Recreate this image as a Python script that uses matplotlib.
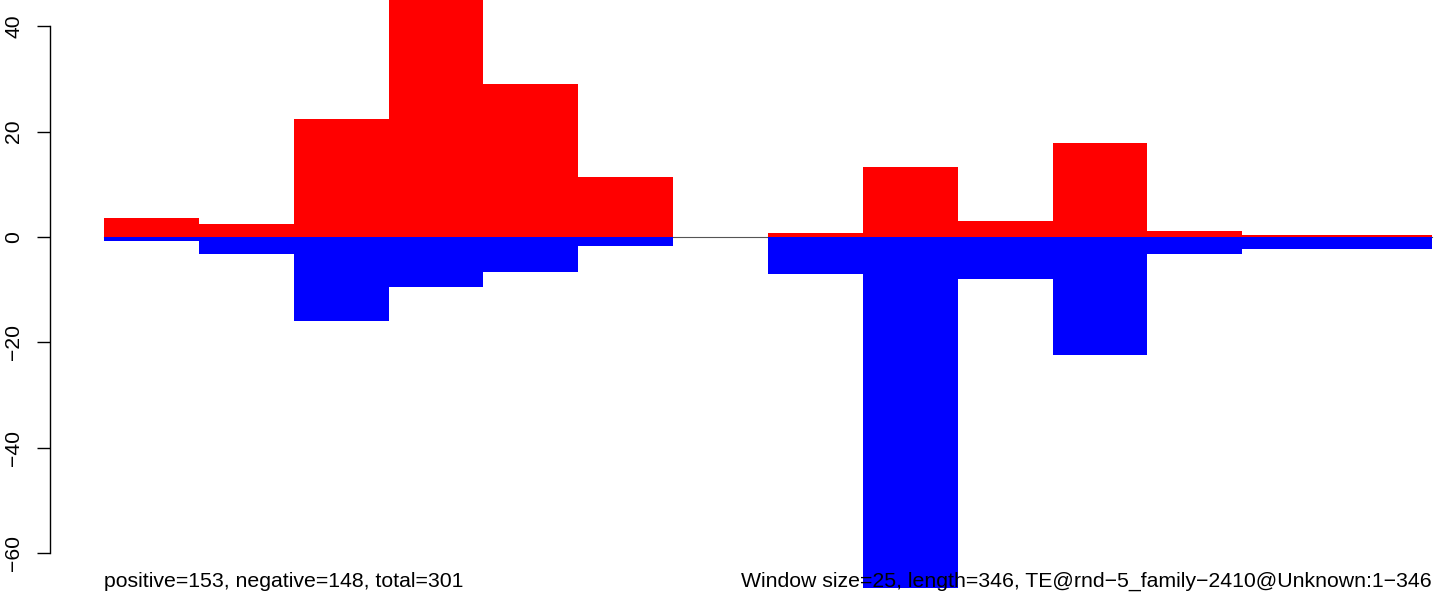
import numpy as np
import matplotlib
matplotlib.use('Agg')
import matplotlib.pyplot as plt

# counts per 25-bp window
positive = [3.7, 2.5, 22.4, 48.0, 29.1, 11.4, 0.0, 0.7, 13.3, 3.0, 17.8, 1.1, 0.3, 0.3]
negative = [-0.8, -3.2, -15.9, -9.5, -6.7, -1.7, 0.0, -7.0, -66.6, -8.0, -22.4, -3.2, -2.3, -2.3]
yticks = [-60, -40, -20, 0, 20, 40]
left_note = 'positive=153, negative=148, total=301'
right_note = 'Window size=25, length=346, TE@rnd\u22125_family\u22122410@Unknown:1\u2212346'

plt.rcParams['font.family'] = ['Liberation Sans', 'DejaVu Sans']
plt.rcParams['axes.unicode_minus'] = True

W, H = 1444, 594
fig = plt.figure(figsize=(W / 100, H / 100), dpi=100)
ax = fig.add_axes([0, 0, 1, 1])

# pixel -> data mapping of the original layout
x0px, bw = 104, 94.857
y0px, ppu = 237, 5.27
ax.set_xlim(-x0px / bw, (W - x0px) / bw)
ax.set_ylim(-(H - y0px) / ppu, y0px / ppu)

n = len(positive)
xs = np.arange(n)
ax.plot([0, n], [0, 0], color='#555555', lw=0.8, zorder=1)
ax.bar(xs, positive, width=1, align='edge', color='#ff0000', linewidth=0, zorder=2)
ax.bar(xs, negative, width=1, align='edge', color='#0000ff', linewidth=0, zorder=2)

for s in ['top', 'right', 'bottom']:
    ax.spines[s].set_visible(False)
ax.spines['left'].set_position(('data', (50 - x0px) / bw))
ax.spines['left'].set_bounds(-60, 40)
ax.spines['left'].set_linewidth(1)
ax.set_xticks([])
ax.set_yticks(yticks)
ax.set_yticklabels([str(v).replace('-', '\u2212') for v in yticks],
                   rotation=90, va='center', fontsize=15.2)
ax.tick_params(axis='y', direction='out', length=9.4, width=1, pad=10)
ax.patch.set_alpha(0)

ytxt = (y0px - 587) / ppu
ax.text(0, ytxt, left_note, ha='left', va='baseline', fontsize=15.3, zorder=5, clip_on=False)
ax.text(n, ytxt, right_note, ha='right', va='baseline', fontsize=15.3, zorder=5, clip_on=False)

fig.savefig('out.png', dpi=100, facecolor='white')
